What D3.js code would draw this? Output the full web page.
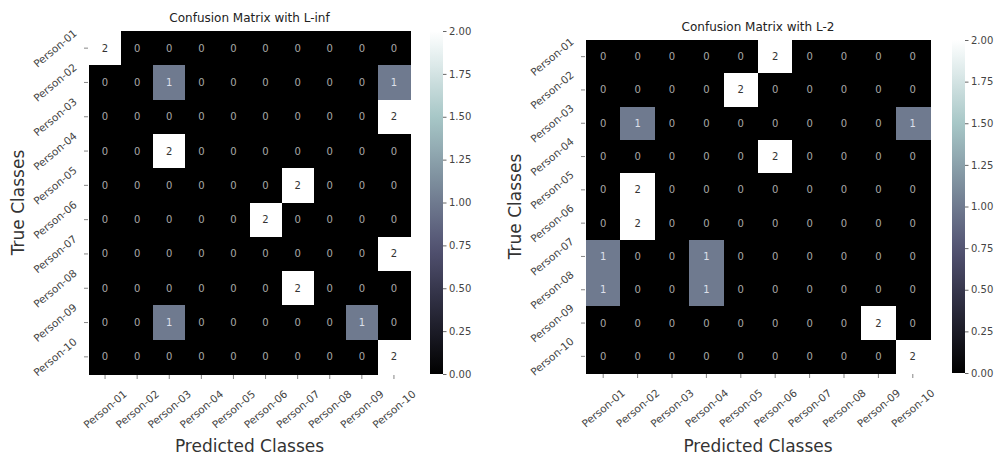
<!DOCTYPE html>
<html>
<head>
<meta charset="utf-8">
<script src="https://cdn.jsdelivr.net/npm/d3@7"></script>
<style>
  body { margin: 0; background: #fff; }
  svg text { font-family: "DejaVu Sans", sans-serif; }
</style>
</head>
<body>
<svg id="chart" width="1004" height="458"></svg>
<script>
const width = 1004;
const height = 458;

const classes = ["Person-01", "Person-02", "Person-03", "Person-04", "Person-05",
                 "Person-06", "Person-07", "Person-08", "Person-09", "Person-10"];

// rows = true class, cols = predicted class
const matrixLinf = [
  [2,0,0,0,0,0,0,0,0,0],
  [0,0,1,0,0,0,0,0,0,1],
  [0,0,0,0,0,0,0,0,0,2],
  [0,0,2,0,0,0,0,0,0,0],
  [0,0,0,0,0,0,2,0,0,0],
  [0,0,0,0,0,2,0,0,0,0],
  [0,0,0,0,0,0,0,0,0,2],
  [0,0,0,0,0,0,2,0,0,0],
  [0,0,1,0,0,0,0,0,1,0],
  [0,0,0,0,0,0,0,0,0,2]
];

const matrixL2 = [
  [0,0,0,0,0,2,0,0,0,0],
  [0,0,0,0,2,0,0,0,0,0],
  [0,1,0,0,0,0,0,0,0,1],
  [0,0,0,0,0,2,0,0,0,0],
  [0,2,0,0,0,0,0,0,0,0],
  [0,2,0,0,0,0,0,0,0,0],
  [1,0,0,1,0,0,0,0,0,0],
  [1,0,0,1,0,0,0,0,0,0],
  [0,0,0,0,0,0,0,0,2,0],
  [0,0,0,0,0,0,0,0,0,2]
];

const colorTicks = [0, 0.25, 0.5, 0.75, 1.0, 1.25, 1.5, 1.75, 2.0];

// matplotlib "bone" colormap key points
const boneStops = [0, 0.365, 0.746, 1];
const boneColors = ["#000000", "#515171", "#a6c6c6", "#ffffff"];

const color = d3.scaleLinear()
  .domain(boneStops.map(t => t * 2))
  .range(boneColors)
  .interpolate(d3.interpolateRgb);

const svg = d3.select("#chart");

const panels = [
  { title: "Confusion Matrix with L-inf", data: matrixLinf, x0: 89, x1: 410, y0: 31, y1: 374,
    titleY: 18, cbX: 430, cbY0: 31, id: "a" },
  { title: "Confusion Matrix with L-2", data: matrixL2, x0: 586, x1: 930, y0: 40, y1: 373,
    titleY: 27, cbX: 952, cbY0: 40, id: "b" }
];

panels.forEach(p => drawPanel(p));

function drawPanel(p) {
  const x = d3.scaleBand().domain(classes).range([p.x0, p.x1]);
  const y = d3.scaleBand().domain(classes).range([p.y0, p.y1]);
  const g = svg.append("g");

  const cells = [];
  p.data.forEach((row, i) => row.forEach((v, j) => cells.push({ r: classes[i], c: classes[j], v })));

  g.selectAll("rect.cell").data(cells).enter().append("rect")
    .attr("class", "cell")
    .attr("x", d => x(d.c))
    .attr("y", d => y(d.r))
    .attr("width", x.bandwidth() + 1)
    .attr("height", y.bandwidth() + 1)
    .attr("shape-rendering", "crispEdges")
    .attr("fill", d => color(d.v));

  g.selectAll("text.annot").data(cells).enter().append("text")
    .attr("class", "annot")
    .attr("x", d => x(d.c) + x.bandwidth() / 2)
    .attr("y", d => y(d.r) + y.bandwidth() / 2)
    .attr("text-anchor", "middle")
    .attr("dominant-baseline", "central")
    .style("font-size", "10px")
    .attr("fill", d => d.v >= 1.5 ? "#333" : (d.v >= 1 ? "#dde0ea" : "#a8a8a8"))
    .text(d => d.v);

  // y axis
  const yAxis = g.append("g")
    .attr("transform", `translate(${p.x0 - 1},0)`)
    .call(d3.axisLeft(y).tickSize(4).tickFormat(""));
  yAxis.select(".domain").remove();
  yAxis.selectAll("line").attr("stroke", "#666").attr("stroke-width", 0.8);

  g.selectAll("text.ylab").data(classes).enter().append("text")
    .attr("class", "ylab")
    .attr("transform", d => `translate(${p.x0 - 34},${y(d) + y.bandwidth() / 2}) rotate(-40)`)
    .attr("text-anchor", "middle")
    .attr("dominant-baseline", "central")
    .style("font-size", "10.5px")
    .attr("fill", "#444")
    .text(d => d);

  // x axis
  const xAxis = g.append("g")
    .attr("transform", `translate(0,${p.y1 + 1})`)
    .call(d3.axisBottom(x).tickSize(4).tickFormat(""));
  xAxis.select(".domain").remove();
  xAxis.selectAll("line").attr("stroke", "#666").attr("stroke-width", 0.8);

  g.selectAll("text.xlab").data(classes).enter().append("text")
    .attr("class", "xlab")
    .attr("transform", d => `translate(${x(d) + x.bandwidth() / 2},${p.y1 + 35}) rotate(-40)`)
    .attr("text-anchor", "middle")
    .attr("dominant-baseline", "central")
    .style("font-size", "10.5px")
    .attr("fill", "#444")
    .text(d => d);

  // titles
  const cx = (p.x0 + p.x1) / 2;
  g.append("text")
    .attr("x", cx).attr("y", p.titleY)
    .attr("text-anchor", "middle")
    .attr("dominant-baseline", "central")
    .style("font-size", "12px")
    .attr("fill", "#222")
    .text(p.title);

  g.append("text")
    .attr("x", cx).attr("y", 446)
    .attr("text-anchor", "middle")
    .attr("dominant-baseline", "central")
    .style("font-size", "17px")
    .attr("fill", "#333")
    .text("Predicted Classes");

  g.append("text")
    .attr("transform", `translate(${p.x0 - 71},${(p.y0 + p.y1) / 2}) rotate(-90)`)
    .attr("text-anchor", "middle")
    .attr("dominant-baseline", "central")
    .style("font-size", "17px")
    .attr("fill", "#333")
    .text("True Classes");

  // colorbar
  const cbW = 13;
  const cbScale = d3.scaleLinear().domain([0, 2]).range([p.y1, p.cbY0]);
  const grad = svg.append("defs").append("linearGradient")
    .attr("id", "grad-" + p.id)
    .attr("x1", "0%").attr("x2", "0%").attr("y1", "100%").attr("y2", "0%");
  d3.range(0, 21).forEach(i => {
    grad.append("stop")
      .attr("offset", `${i * 5}%`)
      .attr("stop-color", color(i / 10));
  });
  g.append("rect")
    .attr("x", p.cbX).attr("y", p.cbY0)
    .attr("width", cbW).attr("height", p.y1 - p.cbY0)
    .attr("fill", `url(#grad-${p.id})`);

  const cbAxis = g.append("g")
    .attr("transform", `translate(${p.cbX + cbW},0)`)
    .call(d3.axisRight(cbScale).tickValues(colorTicks).tickSize(3.5).tickFormat(d3.format(".2f")));
  cbAxis.select(".domain").remove();
  cbAxis.selectAll("line").attr("stroke", "#666");
  cbAxis.selectAll("text")
    .style("font-size", "10px")
    .style("font-family", "DejaVu Sans, sans-serif")
    .attr("fill", "#444")
    .attr("x", 6);
}
</script>
</body>
</html>
